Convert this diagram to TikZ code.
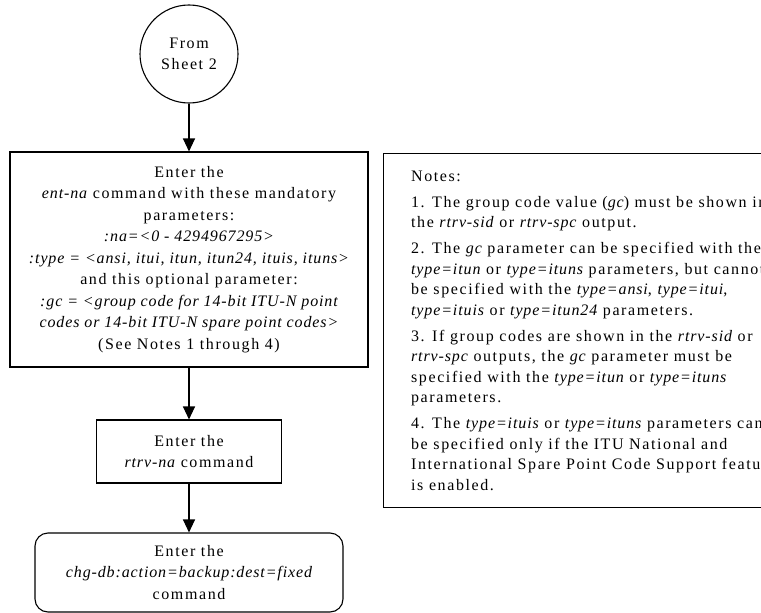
\documentclass[tikz,border=0pt]{standalone}
\usepackage{fontspec}
\setmainfont{Liberation Serif}[LetterSpace=10]
\newfontfamily\cmdfont{Liberation Serif}[LetterSpace=5.5]
\usetikzlibrary{arrows.meta}
\tikzset{
    stepbox/.style={draw, line width=1.1pt, align=center, inner sep=0pt},
    flow/.style={line width=1.1pt, -{Triangle[width=12pt,length=13pt]}}
}
\newcommand{\cmd}[1]{{\cmdfont\itshape #1}}

\begin{document}
\begin{tikzpicture}[x=1pt,y=-1pt,font=\fontsize{16}{21.5}\selectfont]
        \useasboundingbox (0,0) rectangle (761,613);
        \clip (0,0) rectangle (761,613);
        % steps
            \node[stepbox, circle, minimum size=98pt] (sheet) at (189,54) {From\\Sheet 2};
            \node[stepbox, minimum width=358pt, minimum height=215pt] (entna) at (189,259.5) {Enter the\\
                \cmd{ent-na} command with these mandatory\\
                parameters:\\
                \cmd{:na=<0 - 4294967295>}\\
                \cmd{:type = <ansi, itui, itun, itun24, ituis, ituns>}\\
                and this optional parameter:\\
                \cmd{:gc = <group code for 14-bit ITU-N point}\\
                \cmd{codes or 14-bit ITU-N spare point codes>}\\
                (See Notes 1 through 4)};
            \node[stepbox, minimum width=185pt, minimum height=63pt] (rtrvna) at (189,451.5) {Enter the\\\cmd{rtrv-na} command};
            \node[stepbox, rounded corners=13pt, minimum width=308pt, minimum height=79pt] (chgdb) at (189,572.5) {Enter the\\
                \cmd{chg-db:action=backup:dest=fixed}\\
                command};
        % arrows
            \foreach \a/\b in {sheet/entna,entna/rtrvna,rtrvna/chgdb}{
                \draw[flow] (\a) -- (\b);
            }
        % notes
            \node[stepbox, anchor=north west, align=left, inner xsep=8pt, minimum width=420pt, minimum height=354pt,
                font=\fontsize{16}{20.5}\selectfont] (notes) at (383,153) {Notes:\\[5.5pt]
                1. The group code value (\cmd{gc}) must be shown in\\
                the \cmd{rtrv-sid} or \cmd{rtrv-spc} output.\\[5.5pt]
                2. The \cmd{gc} parameter can be specified with the\\
                \cmd{type=itun} or \cmd{type=ituns} parameters, but cannot\\
                be specified with the \cmd{type=ansi}, \cmd{type=itui},\\
                \cmd{type=ituis} or \cmd{type=itun24} parameters.\\[5.5pt]
                3. If group codes are shown in the \cmd{rtrv-sid} or\\
                \cmd{rtrv-spc} outputs, the \cmd{gc} parameter must be\\
                specified with the \cmd{type=itun} or \cmd{type=ituns}\\
                parameters.\\[5.5pt]
                4. The \cmd{type=ituis} or \cmd{type=ituns} parameters can\\
                be specified only if the ITU National and\\
                International Spare Point Code Support feature\\
                is enabled.};
\end{tikzpicture}
\end{document}
